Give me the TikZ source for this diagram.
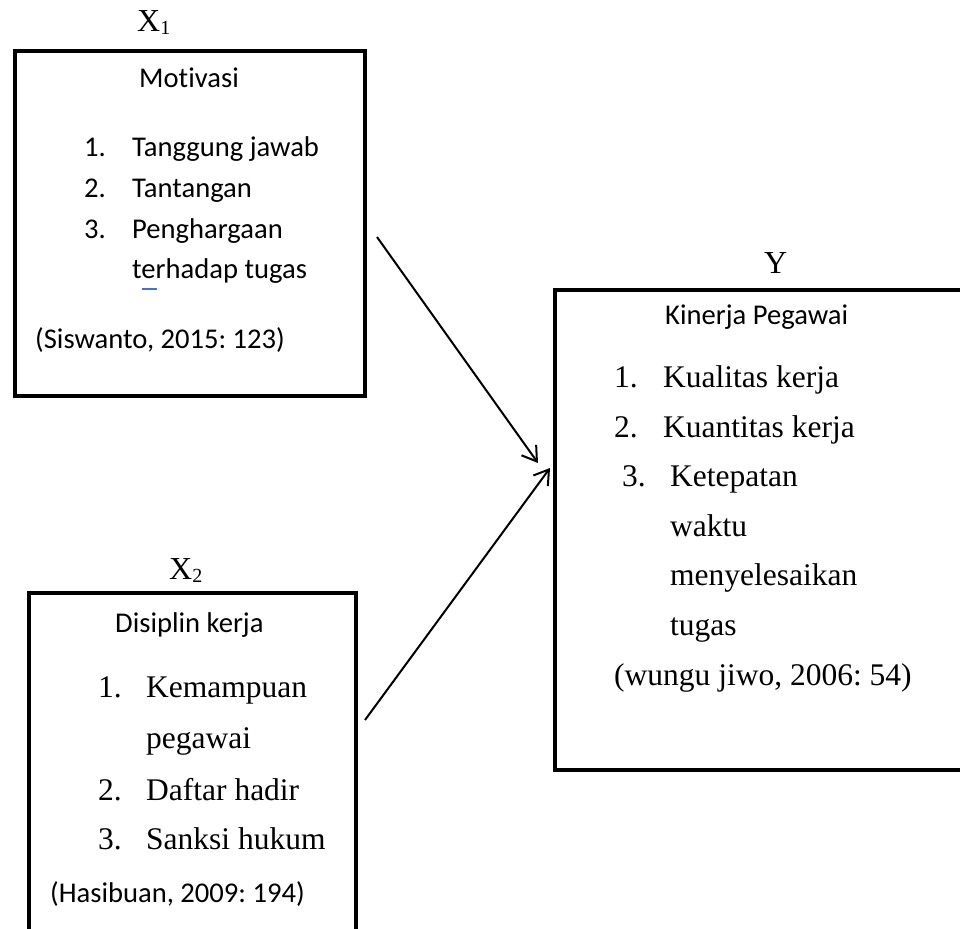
\documentclass[tikz,border=0pt]{standalone}
\usepackage{fontspec}
\setmainfont{Liberation Serif}
\newfontfamily\calibri[Ligatures=NoCommon]{Carlito}
\usetikzlibrary{arrows.meta}
\definecolor{spellblue}{RGB}{68,114,196}
\frenchspacing

\begin{document}
\begin{tikzpicture}[x=1pt,y=-1pt,
	kotak/.style={draw, line width=4pt, rectangle, anchor=north west, inner sep=0pt},
	sans/.style={anchor=base west, inner sep=0pt, font=\calibri\fontsize{28.6}{32}\selectfont},
	serif/.style={anchor=base west, inner sep=0pt, font=\fontsize{31.5}{36}\selectfont},
	label/.style={anchor=base west, inner sep=0pt, font=\fontsize{32}{36}\selectfont},
	panah/.style={line width=2pt, -{Straight Barb[length=14pt,width=18pt]}}]
	\useasboundingbox (0,0) rectangle (960,928);
	\clip (0,0) rectangle (960,928);
	% Motivasi (X1)
	\node[kotak, minimum width=350pt, minimum height=345pt] (motivasi) at (13,49) {};
	\node[label] (lx1) at (137,32) {X\raisebox{-3pt}{\fontsize{20}{22}\selectfont 1}};
	\node[sans] (judul1) at (139,88) {Motivasi};
	\node[sans] (m1) at (84,157) {\makebox[48pt][l]{1.}Tanggung jawab};
	\node[sans] (m2) at (84,197) {\makebox[48pt][l]{2.}Tantangan};
	\node[sans] (m3) at (84,238) {\makebox[48pt][l]{3.}Penghargaan};
	\node[sans] (m3b) at (132,278) {terhadap tugas};
	\draw[spellblue, line width=2pt] (142,289) -- (157,289); % spell mark
	\node[sans] (sumber1) at (35,348) {(Siswanto, 2015: 123)};
	% Disiplin kerja (X2)
	\node[kotak, minimum width=327pt, minimum height=370pt] (disiplin) at (27,591) {};
	\node[label] (lx2) at (169,579) {X\raisebox{-3pt}{\fontsize{20}{22}\selectfont 2}};
	\node[sans] (judul2) at (115,632) {Disiplin kerja};
	\node[serif] (d1) at (98,697) {\makebox[48pt][l]{1.}Kemampuan};
	\node[serif] (d1b) at (146,748) {pegawai};
	\node[serif] (d2) at (98,800) {\makebox[48pt][l]{2.}Daftar hadir};
	\node[serif] (d3) at (98,849) {\makebox[48pt][l]{3.}Sanksi hukum};
	\node[sans] (sumber2) at (50,902) {(Hasibuan, 2009: 194)};
	% Kinerja Pegawai (Y)
	\node[kotak, minimum width=450pt, minimum height=480pt] (kinerja) at (553,288) {};
	\node[label] (ly) at (764,273) {Y};
	\node[sans] (judul3) at (665,324) {Kinerja Pegawai};
	\node[serif] (k1) at (614,387) {\makebox[49pt][l]{1.}Kualitas kerja};
	\node[serif] (k2) at (614,437) {\makebox[49pt][l]{2.}Kuantitas kerja};
	\node[serif] (k3) at (622,486) {\makebox[48pt][l]{3.}Ketepatan};
	\node[serif] (k3b) at (670,536) {waktu};
	\node[serif] (k3c) at (670,585) {menyelesaikan};
	\node[serif] (k3d) at (670,635) {tugas};
	\node[serif] (sumber3) at (614,685) {(wungu jiwo, 2006: 54)};
	% panah
	\coordinate (p1) at (377,237);
	\coordinate (q1) at (538,463);
	\coordinate (p2) at (365,720);
	\coordinate (q2) at (550,468);
	\draw[panah] (p1) -- (q1);
	\draw[panah] (p2) -- (q2);
\end{tikzpicture}
\end{document}
